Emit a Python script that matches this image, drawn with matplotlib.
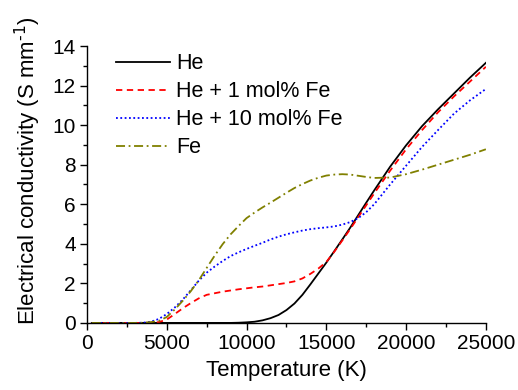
import numpy as np
import matplotlib
matplotlib.use("Agg")
import matplotlib.pyplot as plt
from matplotlib.ticker import MultipleLocator

plt.rcParams['font.family'] = ['Liberation Sans', 'DejaVu Sans']

T = [300, 1000, 2000, 3000,
     3500, 4000, 4500, 5000, 5500, 6000, 6500, 7000, 7500, 8000, 8500, 9000,
     9500, 10000, 10500, 11000, 11500, 12000, 12500, 13000, 13500, 14000,
     14500, 15000, 15500, 16000, 16500, 17000, 17500, 18000,
     19000, 20000, 21000, 22000, 23000, 24000, 25000]

he = [0, 0, 0, 0,
      0, 0, 0, 0, 0, 0, 0, 0, 0, 0, 0, 0,
      0.01, 0.03, 0.06, 0.13, 0.24, 0.40, 0.65, 0.98, 1.42, 1.95,
      2.50, 3.05, 3.63, 4.22, 4.82, 5.45, 6.08, 6.70,
      7.90, 8.98, 9.95, 10.80, 11.60, 12.40, 13.15]

he_1fe = [0, 0, 0, 0,
          0, 0.01, 0.04, 0.17, 0.45, 0.74, 1.00, 1.24, 1.42, 1.50, 1.58, 1.64,
          1.70, 1.75, 1.80, 1.84, 1.90, 1.96, 2.02, 2.10, 2.25, 2.48,
          2.75, 3.08, 3.60, 4.17, 4.75, 5.35, 5.95, 6.55,
          7.70, 8.78, 9.75, 10.65, 11.45, 12.20, 12.95]

he_10fe = [0, 0, 0, 0,
           0.01, 0.06, 0.20, 0.45, 0.78, 1.18, 1.65, 2.13, 2.54, 2.85, 3.13, 3.38,
           3.57, 3.74, 3.90, 4.05, 4.22, 4.36, 4.48, 4.58, 4.67, 4.74,
           4.79, 4.83, 4.88, 4.97, 5.10, 5.30, 5.60, 6.00,
           7.00, 7.95, 8.90, 9.75, 10.58, 11.25, 11.83]

fe = [0, 0, 0, 0,
      0.01, 0.04, 0.10, 0.30, 0.68, 1.12, 1.60, 2.15, 2.78, 3.40, 3.98, 4.48,
      4.90, 5.30, 5.58, 5.84, 6.08, 6.33, 6.58, 6.82, 7.02, 7.20,
      7.34, 7.45, 7.50, 7.52, 7.50, 7.44, 7.38, 7.33,
      7.35, 7.52, 7.75, 8.00, 8.25, 8.50, 8.78]

labels = ["He", "He + 1 mol% Fe", "He + 10 mol% Fe", "Fe"]

fig = plt.figure(figsize=(5.18, 3.9), dpi=100)
ax = fig.add_axes([0.168, 0.172, 0.770, 0.710])

lw = 1.3
ax.plot(T, he, color='black', lw=lw, label=labels[0])
ax.plot(T, he_1fe, color='#ff0000', lw=lw, dashes=(3.5, 2.5), label=labels[1])
ax.plot(T, he_10fe, color='#0000ff', lw=lw, dashes=(1.0, 1.4), label=labels[2])
ax.plot(T, fe, color='#808000', lw=lw, dashes=(5, 2, 1, 2), label=labels[3])

ax.set_xlim(0, 25000)
ax.set_ylim(0, 14)
ax.xaxis.set_major_locator(MultipleLocator(5000))
ax.xaxis.set_minor_locator(MultipleLocator(2500))
ax.yaxis.set_major_locator(MultipleLocator(2))
ax.yaxis.set_minor_locator(MultipleLocator(1))

for s in ['top', 'right']:
    ax.spines[s].set_visible(False)
for s in ['left', 'bottom']:
    ax.spines[s].set_linewidth(1.0)

ax.tick_params(which='major', direction='out', length=5, width=1.0, labelsize=15, pad=3)
ax.tick_params(which='minor', direction='out', length=3, width=1.0)

ax.set_xlabel("Temperature (K)", fontsize=16, labelpad=5)
ax.set_ylabel("Electrical conductivity (S mm$^{\\text{-}1}$)", fontsize=16)
ax.yaxis.set_label_coords(-0.11, 0.55)

ax.legend(loc='upper left', bbox_to_anchor=(0.04, 1.02), frameon=False, fontsize=15.5,
          handlelength=2.5, handletextpad=0.3, labelspacing=0.32, borderaxespad=0.2)

fig.savefig("out.png", dpi=100)
